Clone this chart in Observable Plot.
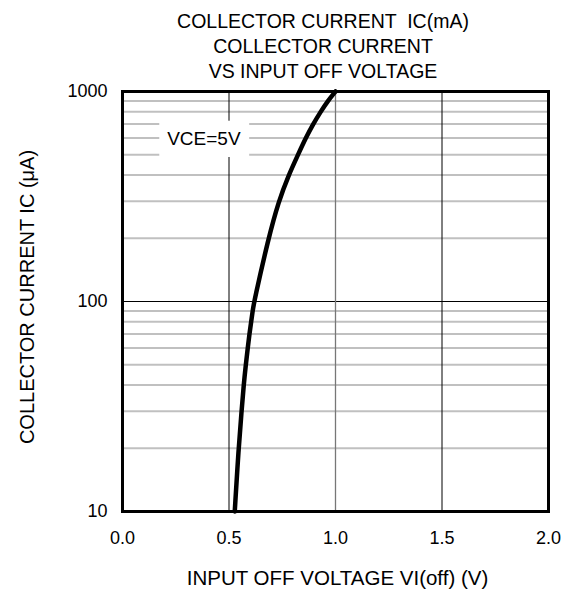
<!DOCTYPE html>
<html>
<head>
<meta charset="utf-8">
<script src="https://cdn.jsdelivr.net/npm/d3@7"></script>
<script src="https://cdn.jsdelivr.net/npm/@observablehq/plot@0.6"></script>
<style>
  body { margin: 0; background: #fff; }
  #wrap { position: relative; width: 570px; height: 590px; font-family: "Liberation Sans", Arial, "Noto Sans CJK JP", sans-serif; }
  #title { position: relative; width: 570px; height: 80px; }
  .t { position: absolute; left: 0; width: 646px; text-align: center; font-size: 19.5px; line-height: 19px; color: #000; white-space: pre; }
</style>
</head>
<body>
<div id="wrap">
  <div id="title">
    <div class="t" style="top:12px">COLLECTOR CURRENT  IC(mA)</div>
    <div class="t" style="top:37px">COLLECTOR CURRENT</div>
    <div class="t" style="top:62px">VS INPUT OFF VOLTAGE</div>
  </div>
  <div id="chart"></div>
</div>
<script>
// Curve: input off voltage (V) vs collector current (µA)
const voltage = [0.527, 0.545, 0.559, 0.569, 0.579, 0.588, 0.596, 0.604, 0.611, 0.618, 0.685, 0.733, 0.780, 0.824, 0.860, 0.895, 0.930, 0.963, 1.0];
const current = [10, 20, 30, 40, 50, 60, 70, 80, 90, 100, 200, 300, 400, 500, 600, 700, 800, 900, 1000];

const xTicks = [0, 0.5, 1.0, 1.5, 2.0];
const yTicks = [10, 100, 1000];
const minorY = [20, 30, 40, 50, 60, 70, 80, 90, 200, 300, 400, 500, 600, 700, 800, 900];
const majorY = [100];
const darkX = [0.5, 1.5];
const grayX = [1.0];

const legendLabel = ["VCE=5V"];
const legendBox = [{x1: 0.175, x2: 0.597, y1: 485, y2: 722, x: 0.382, y: 597, label: legendLabel[0]}];

const xLabel = "INPUT OFF VOLTAGE VI(off) (V)";
const yLabel = "COLLECTOR CURRENT IC (μA)";

const data = voltage.map((v, i) => ({v, i: current[i]}));

const chart = Plot.plot({
  width: 570,
  height: 510,
  marginLeft: 122,
  marginRight: 22,
  marginTop: 11,
  marginBottom: 79,
  style: {fontFamily: '"Liberation Sans", Arial, "Noto Sans CJK JP", sans-serif', fontSize: "18px", color: "#000", background: "#fff"},
  x: {domain: [0, 2]},
  y: {type: "log", domain: [10, 1000]},
  marks: [
    Plot.ruleY(minorY, {stroke: "#c0c0c0", strokeWidth: 2}),
    Plot.ruleY(majorY, {stroke: "#000", strokeWidth: 1}),
    Plot.ruleX(darkX, {stroke: "#000", strokeWidth: 1}),
    Plot.ruleX(grayX, {stroke: "#777", strokeWidth: 1.3}),
    Plot.rect(legendBox, {x1: "x1", x2: "x2", y1: "y1", y2: "y2", fill: "#fff"}),
    Plot.text(legendBox, {x: "x", y: "y", text: "label", fontSize: 19, fill: "#000"}),
    Plot.line(data, {x: "v", y: "i", stroke: "#000", strokeWidth: 4.5, curve: "basis"}),
    Plot.frame({stroke: "#000", strokeWidth: 3}),
    Plot.axisX({ticks: xTicks, tickSize: 0, tickPadding: 20, tickFormat: d => d.toFixed(1), label: null, fontSize: 18}),
    Plot.axisY({ticks: yTicks, tickSize: 0, tickPadding: 15, tickFormat: d => String(d), label: null, fontSize: 18}),
    Plot.text([xLabel], {frameAnchor: "bottom", dy: 67, dx: 2, text: d => d, fontSize: 20.5, lineAnchor: "middle", textAnchor: "middle"}),
    Plot.text([yLabel], {frameAnchor: "left", dx: -95, dy: -4.5, text: d => d, fontSize: 20, rotate: -90, lineAnchor: "middle", textAnchor: "middle"})
  ]
});
document.getElementById("chart").appendChild(chart);
</script>
</body>
</html>
